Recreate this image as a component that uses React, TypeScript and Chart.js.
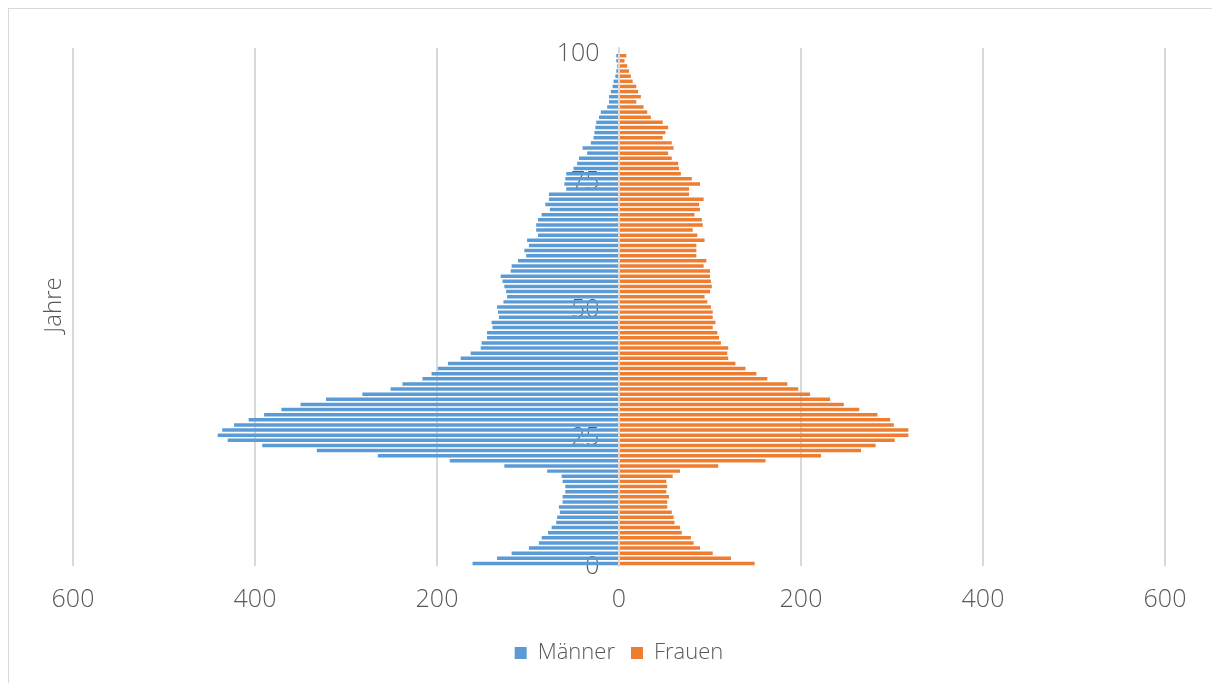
import React, { useEffect, useRef } from "react";
import { Chart, registerables } from "chart.js";

Chart.register(...registerables);

const ages: string[] = Array.from({ length: 101 }, (_, i) => String(i));

const yTickLabels = ["0", "25", "50", "75", "100"];

const maleValues = [
  161, 134, 118, 99, 88, 85, 78, 74, 69, 68,
  65, 66, 62, 62, 59, 59, 62, 63, 79, 126,
  186, 265, 332, 392, 430, 441, 436, 423, 407, 390,
  371, 350, 322, 282, 251, 238, 216, 206, 199, 188,
  174, 163, 152, 151, 145, 145, 139, 140, 132, 133,
  134, 127, 123, 124, 126, 128, 130, 119, 118, 111,
  102, 104, 99, 101, 89, 91, 91, 89, 85, 76,
  81, 77, 77, 58, 60, 59, 58, 50, 46, 44,
  35, 40, 31, 28, 27, 26, 25, 22, 20, 13,
  11, 11, 9, 7, 6, 4, 3, 2, 3, 3,
  0,
];

const femaleValues = [
  149, 123, 103, 89, 82, 79, 69, 67, 61, 60,
  58, 53, 53, 55, 52, 53, 52, 59, 67, 109,
  161, 222, 266, 282, 303, 318, 318, 302, 298, 284,
  264, 247, 232, 210, 197, 185, 163, 151, 139, 128,
  120, 119, 120, 112, 110, 108, 103, 106, 103, 103,
  101, 97, 94, 100, 102, 101, 100, 100, 93, 96,
  85, 85, 85, 94, 86, 81, 92, 91, 83, 89,
  88, 93, 77, 77, 89, 80, 68, 66, 65, 58,
  54, 60, 58, 48, 51, 54, 48, 35, 31, 27,
  19, 24, 21, 19, 15, 13, 11, 9, 6, 8,
  0,
];

const seriesNames = ["Männer", "Frauen"];
const yAxisTitle = "Jahre";

const FONT = '"Open Sans", "Noto Sans", sans-serif';
const TEXT = "#595959";

export default function App() {
  const ref = useRef<HTMLCanvasElement | null>(null);

  useEffect(() => {
    if (!ref.current) return;
    const titlePlugin = {
      id: "yTitle",
      afterDraw(chart: any) {
        const { ctx, chartArea } = chart;
        ctx.save();
        ctx.translate(45, (chartArea.top + chartArea.bottom) / 2 - 2);
        ctx.rotate(-Math.PI / 2);
        ctx.textAlign = "center";
        ctx.textBaseline = "middle";
        ctx.fillStyle = TEXT;
        ctx.font = `300 24px ${FONT}`;
        ctx.fillText(yAxisTitle, 0, 0);
        ctx.restore();
      },
    };
    const chart = new Chart(ref.current, {
      type: "bar",
      data: {
        labels: ages,
        datasets: [
          {
            label: seriesNames[0],
            data: maleValues.map((v) => -v),
            backgroundColor: "#5b9bd5",
            borderWidth: 0,
            barPercentage: 0.68,
            categoryPercentage: 1,
          },
          {
            label: seriesNames[1],
            data: femaleValues,
            backgroundColor: "#ed7d31",
            borderWidth: 0,
            barPercentage: 0.68,
            categoryPercentage: 1,
          },
        ],
      },
      options: {
        indexAxis: "y",
        animation: false,
        responsive: true,
        maintainAspectRatio: false,
        layout: { padding: { left: 64, right: 47, top: 39, bottom: 9 } },
        scales: {
          x: {
            type: "linear",
            min: -600,
            max: 600,
            stacked: true,
            afterFit: (s: any) => {
              s.height = 60;
            },
            ticks: {
              stepSize: 200,
              callback: (v: any) => String(Math.abs(Number(v))),
              font: { family: FONT, size: 25, weight: "300" as any },
              color: TEXT,
              padding: 19,
              maxRotation: 0,
            },
            grid: { color: "#d9d9d9", lineWidth: 2, drawTicks: false },
            border: { display: false },
          },
          y: {
            type: "category",
            reverse: true,
            stacked: true,
            position: { x: 0 } as any,
            ticks: {
              autoSkip: false,
              labelOffset: 3,
              callback: function (this: any, _v: any, i: number) {
                const l = ages[i];
                return yTickLabels.includes(l) ? l + "   " : "";
              },
              font: { family: FONT, size: 25, weight: "300" as any },
              color: TEXT,
              padding: 0,
            },
            grid: { display: false, drawTicks: false },
            border: { display: true, color: "#d9d9d9", width: 1.5 },
          },
        },
        plugins: {
          legend: {
            position: "bottom",
            labels: {
              boxWidth: 12,
              boxHeight: 12,
              padding: 16,
              color: TEXT,
              font: { family: FONT, size: 22, weight: "300" as any },
            },
          },
          tooltip: { enabled: false },
        },
      },
      plugins: [titlePlugin],
    });
    return () => chart.destroy();
  }, []);

  return (
    <div
      style={{
        position: "fixed",
        left: 8,
        top: 8,
        width: 1204,
        height: 675,
        boxSizing: "border-box",
        borderTop: "1px solid #d9d9d9",
        borderLeft: "1px solid #d9d9d9",
        background: "#fff",
      }}
    >
      <div style={{ position: "relative", width: 1203, height: 674 }}>
        <canvas ref={ref} />
      </div>
    </div>
  );
}
